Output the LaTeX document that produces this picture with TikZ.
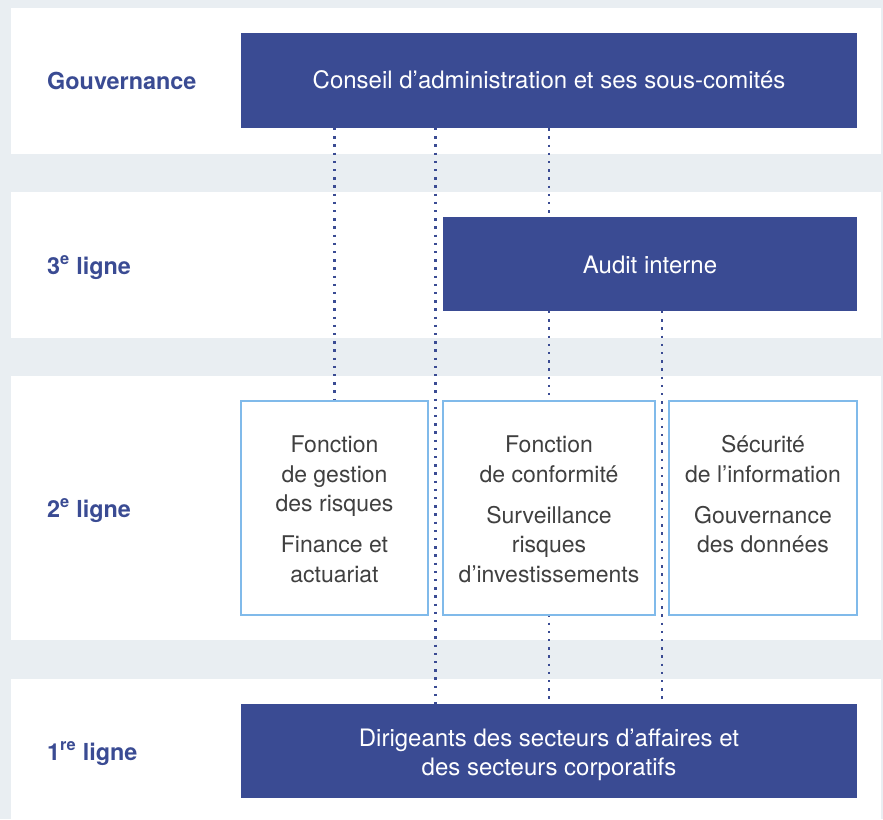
\documentclass[tikz,border=0pt]{standalone}
\usepackage{fontspec}
\setmainfont{TeX Gyre Heros}
\definecolor{bandbg}{RGB}{233,238,242}
\definecolor{navy}{RGB}{58,75,147}
\definecolor{lightedge}{RGB}{128,186,234}
\definecolor{txtgray}{RGB}{64,64,64}
\begin{document}
\begin{tikzpicture}[x=1pt,y=-1pt,
  darkbox/.style={fill=navy,draw=none,inner sep=0pt},
  darktext/.style={text=white,inner sep=0pt,align=center,
    font=\fontsize{24}{29}\selectfont},
  lightbox/.style={fill=white,draw=lightedge,line width=1.3pt,inner sep=0pt},
  boxtext/.style={anchor=north,inner sep=0pt,align=center,text=txtgray,
    font=\fontsize{23}{29.5}\selectfont},
  rowlabel/.style={anchor=base west,inner sep=0pt,text=navy,
    font=\fontsize{23.4}{28}\selectfont\bfseries},
  dots/.style={navy,line width=2.5pt,line cap=butt,dash pattern=on 2.4pt off 5.8pt}]
\useasboundingbox (0,0) rectangle (883,819);
\fill[bandbg] (0,0) rectangle (883,819);
\fill[white] (11,8) rectangle (881,154);
\fill[white] (11,192) rectangle (881,338);
\fill[white] (11,376) rectangle (881,640);
\fill[white] (11,679) rectangle (881,819);
% row labels
\node[rowlabel] (lgov) at (47,89) {Gouvernance};
\node[rowlabel] (l3) at (47,274) {3\textsuperscript{e} ligne};
\node[rowlabel] (l2) at (47,517) {2\textsuperscript{e} ligne};
\node[rowlabel] (l1) at (47,760) {1\textsuperscript{re} ligne};
% dark boxes
\node[darkbox,minimum width=616pt,minimum height=95pt] (conseil) at (549,80.5) {};
\node[darktext,anchor=base] (conseilt) at (549,88.3)
  {Conseil d’administration et ses sous-comités};
\node[darkbox,minimum width=414pt,minimum height=94pt] (audit) at (650,264) {};
\node[darktext,anchor=base] (auditt) at (650,273.3) {Audit interne};
\node[darkbox,minimum width=616pt,minimum height=94pt] (dir) at (549,751) {};
\node[darktext,anchor=north] (dirt) at (549,725.7)
  {\strut Dirigeants des secteurs d’affaires et\\des secteurs corporatifs};
% coordinates for connectors
\coordinate (c1) at (334.5,128);
\coordinate (c2a) at (435.5,128);
\coordinate (c2b) at (435.5,704);
\coordinate (c3a) at (549,217);
\coordinate (c3b) at (549,311);
\coordinate (c4a) at (662,311);
\coordinate (c4b) at (662,704);
% dotted connectors
\draw[dots] (c2a) -- (c2b);
\draw[dots] (conseil.south) -- (c3a);
\draw[dots] (c3b) -- (dir.north);
\draw[dots] (c4a) -- (c4b);
% light boxes
\node[lightbox,minimum width=187pt,minimum height=214pt] (risk) at (334.5,508) {};
\node[lightbox,minimum width=212pt,minimum height=214pt] (conf) at (549,508) {};
\node[lightbox,minimum width=188pt,minimum height=214pt] (secu) at (763,508) {};
\draw[dots] (c1) -- (risk.north);
% texts in light boxes
\node[boxtext] (riskt) at (334.5,431.8)
  {\strut Fonction\\de gestion\\des risques\\[11.5pt]Finance et\\actuariat};
\node[boxtext] (conft) at (549,431.8)
  {\strut Fonction\\de conformité\\[11.5pt]Surveillance\\risques\\d’investissements};
\node[boxtext] (secut) at (763,431.8)
  {\strut Sécurité\\de l’information\\[11.5pt]Gouvernance\\des données};
\end{tikzpicture}
\end{document}
